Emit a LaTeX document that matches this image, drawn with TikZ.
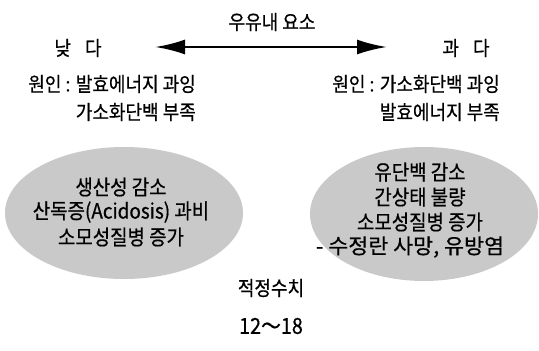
\documentclass[tikz,border=0pt]{standalone}
\usepackage{fontspec}
\setmainfont{Noto Sans CJK KR}[FakeStretch=0.9,FakeBold=0.6]
\usetikzlibrary{arrows.meta,shapes.geometric}
\begin{document}
\begin{tikzpicture}[x=1pt,y=-1pt,
  lbl/.style={inner sep=0pt,font=\fontsize{20}{24}\selectfont},
  blob/.style={ellipse,fill=gray!42,draw=none,inner sep=0pt},
  big/.style={lbl,font=\fontsize{21}{24}\selectfont}]
\useasboundingbox (0,0) rectangle (539,351);
\fill[white] (0,0) rectangle (539,351);
% title and arrow
\node[lbl] (title) at (272,22) {우유내 요소};
\coordinate (lo) at (155,47);
\coordinate (hi) at (387,47);
\draw[line width=2.6pt,{Latex[length=30pt,width=15pt]}-{Latex[length=30pt,width=15pt]}] (lo) -- (hi);
\node[lbl] (low) at (78,48) {낮\hspace{0.7em}다};
\node[lbl] (high) at (466,48) {과\hspace{0.7em}다};
% causes
\node[lbl,anchor=east] (lc1) at (196,84) {원인 : 발효에너지 과잉};
\node[lbl,anchor=east] (lc2) at (196,112) {가소화단백 부족};
\node[lbl,anchor=east] (rc1) at (500,84) {원인 : 가소화단백 과잉};
\node[lbl,anchor=east] (rc2) at (500,112) {발효에너지 부족};
% ellipses
\node[blob,minimum width=238pt,minimum height=132pt] (le) at (124,213) {};
\node[blob,minimum width=228pt,minimum height=134pt] (re) at (424,214) {};
\node[big] (lt1) at (121,187) {생산성 감소};
\node[big] (lt2) at (121,212) {산독증(Acidosis) 과비};
\node[big] (lt3) at (121,237) {소모성질병 증가};
\node[big] (rt1) at (420,172) {유단백 감소};
\node[big] (rt2) at (420,197) {간상태 불량};
\node[big] (rt3) at (420,222) {소모성질병 증가};
\node[big] (rt4) at (410,247) {\scalebox{1.15}[1]{- 수정란 사망, 유방염}};
% bottom
\node[lbl] (opt) at (271,288) {적정수치};
\node[lbl,font=\fontsize{22}{26}\selectfont] (range) at (271,326) {12～18};
\end{tikzpicture}
\end{document}
